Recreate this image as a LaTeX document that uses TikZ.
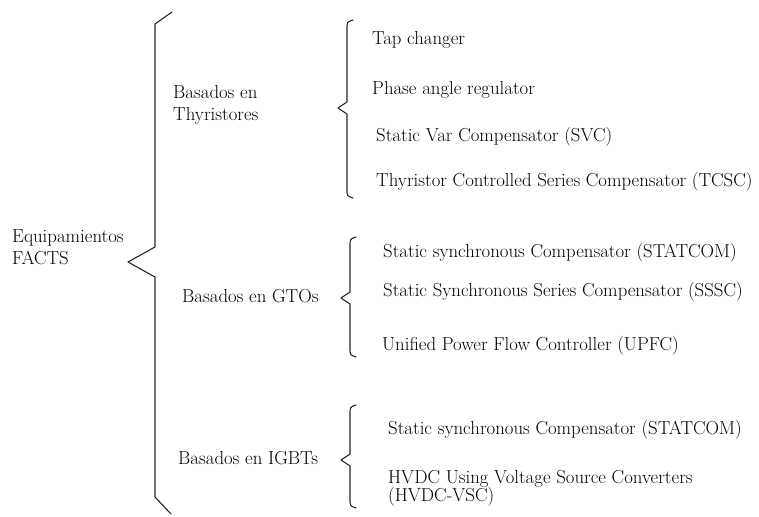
\documentclass[tikz,border=0pt]{standalone}

\begin{document}
\begin{tikzpicture}[x=1pt,y=-1pt,line join=round,line cap=round,
  txt/.style={anchor=west,inner sep=0pt,align=left,font=\fontsize{18.8}{22}\selectfont},
  brace/.style={line width=1.1pt,draw=black!85}]
\useasboundingbox (0,0) rectangle (759,516);
% main brace
\coordinate (top) at (172,12);
\coordinate (tip) at (128,262);
\coordinate (bot) at (171,514);
\draw[brace](top)--(155,24)--(155,247)--(tip)--(155,277)--(155,497)--(bot);
\node[txt] (facts) at (12,247) {Equipamientos\\FACTS};
% groups
\node[txt] (thy) at (173,105) {Basados en\\Thyristores};
\node[txt] (gto) at (182,296) {Basados en GTOs};
\node[txt] (igbt) at (178,458) {Basados en IGBTs};
% small braces: top/tip/bottom/x
\foreach \t/\m/\b/\x in {20/108/198/347,237/298/357/350,405/460/508/350}{
  \draw[brace](\x+6,\t)..controls(\x,\t+2)..(\x,\t+9)--(\x,\m-6)--(\x-9,\m)--(\x,\m+6)--(\x,\b-9)..controls(\x,\b-2)..(\x+6,\b);}
% items
\foreach \n/\x/\y/\t in {tap/372/40/Tap changer,par/372/90/Phase angle regulator,
  svc/376/137/Static Var Compensator (SVC),tcsc/376/182/Thyristor Controlled Series Compensator (TCSC),
  stat1/383/253/Static synchronous Compensator (STATCOM),sssc/383/292/Static Synchronous Series Compensator (SSSC),
  upfc/382/346/Unified Power Flow Controller (UPFC),stat2/388/430/Static synchronous Compensator (STATCOM)}{
  \node[txt] (\n) at (\x,\y) {\t};}
\node[txt] (vsc) at (388,488) {HVDC Using Voltage Source Converters\\[-4pt](HVDC-VSC)};
\end{tikzpicture}
\end{document}
